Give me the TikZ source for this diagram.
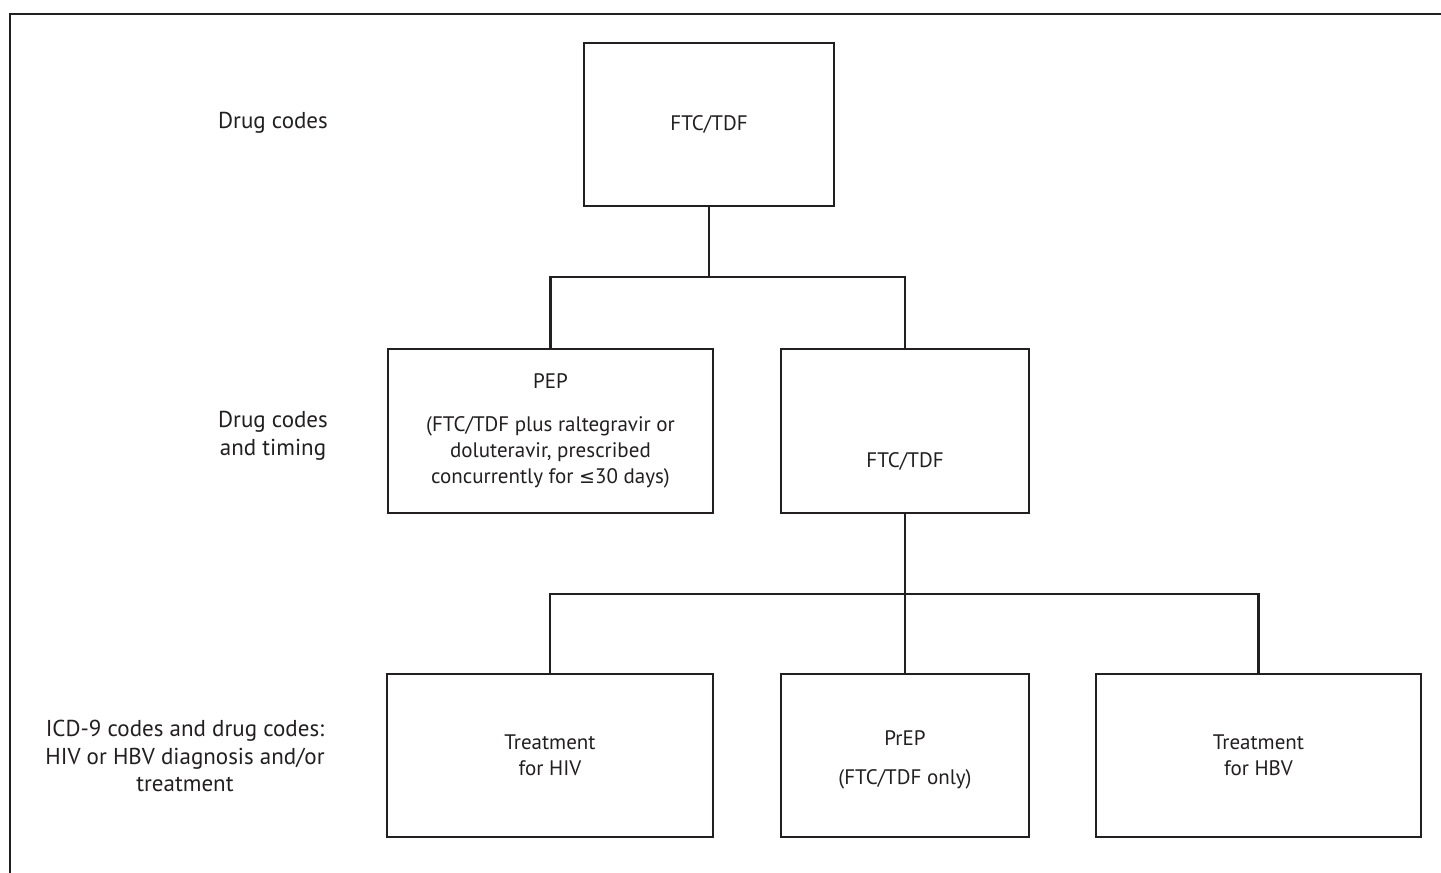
\documentclass[tikz,border=0pt]{standalone}
\usepackage{fontspec}
\setmainfont{PT Sans}
\newfontfamily\symf{DejaVu Sans}
\definecolor{ink}{HTML}{231F20}
\tikzset{
  txt/.style={text=ink, align=center, inner sep=0pt, font=\fontsize{23}{27.5}\selectfont},
  box/.style={text=ink, align=center, inner sep=0pt, font=\fontsize{21}{26}\selectfont, draw=ink, line width=2.4pt},
  btxt/.style={text=ink, align=center, inner sep=0pt, font=\fontsize{21}{26}\selectfont},
  conn/.style={draw=ink, line width=2.4pt},
  framel/.style={draw=ink, line width=2.5pt},
}
\begin{document}
\begin{tikzpicture}[x=1pt,y=-1pt]
\useasboundingbox (0,0) rectangle (1441,873);
\fill[white] (0,0) rectangle (1441,873);
% frame
\coordinate (fa) at (10,880);
\coordinate (fb) at (10,14);
\coordinate (fc) at (1450,14);
\draw[framel] (fa) -- (fb) -- (fc);
% row labels
\node[txt] (l1) at (273,123) {Drug codes};
\node[txt] (l2) at (273,436) {Drug codes\\and timing};
\node[txt] (l3) at (185,756) {ICD-9 codes and drug codes:\\HIV or HBV diagnosis and/or\\treatment};
% boxes
\node[box, minimum width=250pt, minimum height=163pt] (top) at (709,124.5) {FTC/TDF};
\node[box, minimum width=325pt, minimum height=164pt] (pep) at (550.5,431) {PEP\\[17pt](FTC/TDF plus raltegravir or\\doluteravir, prescribed\\concurrently for {\symf\fontsize{19}{26}\selectfont ≤}30 days)};
\node[box, minimum width=248pt, minimum height=164pt] (mid) at (905,431) {};
\node[btxt] (midt) at (905,461) {FTC/TDF};
\node[box, minimum width=326pt, minimum height=163pt] (hiv) at (550,755.5) {Treatment\\for HIV};
\node[box, minimum width=248pt, minimum height=163pt] (prep) at (905,755.5) {};
\node[btxt] (prept) at (905,760) {PrEP\\[13pt](FTC/TDF only)};
\node[box, minimum width=325pt, minimum height=163pt] (hbv) at (1258.5,755.5) {Treatment\\for HBV};
% connectors
\coordinate (j1) at (709,277);
\coordinate (j2) at (905,594);
\draw[conn] (top.south) -- (j1);
\draw[conn] (pep.north) |- (j1) -| (mid.north);
\draw[conn] (mid.south) -- (j2);
\draw[conn] (hiv.north) |- (j2) -| (hbv.north);
\draw[conn] (j2) -- (prep.north);
\end{tikzpicture}
\end{document}
